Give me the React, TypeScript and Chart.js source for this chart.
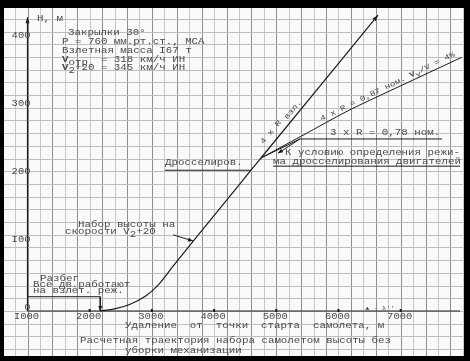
import React, { useEffect, useRef } from "react";
import { Chart, registerables } from "chart.js";

Chart.register(...registerables);

// ---- axis ticks ----
const xTickValues = [1000, 2000, 3000, 4000, 5000, 6000, 7000];
const xTickLabels = ["I000", "2000", "3000", "4000", "5000", "6000", "7000"];
const yTickValues = [0, 100, 200, 300, 400];
const yTickLabels = ["0", "I00", "200", "300", "400"];

// ---- trajectories: distance from start (m) / height (m) ----
const allEnginesX = [2170, 2400, 2650, 2900, 3100, 3350, 3720, 4593, 4754, 6635];
const allEnginesY = [0, 3, 10, 22, 38, 67, 109, 207, 225, 435];
const fourThrottledX = [4754, 5400, 6185, 6506, 7980];
const fourThrottledY = [225, 257, 296, 310, 373];
const threeThrottledX = [4754, 5381, 7665];
const threeThrottledY = [225, 253, 253];

// ---- leader lines ----
const runX = [1000, 2170, 2170];
const runY = [21, 21, 0];
const climbLeaderX = [3342, 3661];
const climbLeaderY = [112, 103];
const throttleLeaderX = [3210, 4593];
const throttleLeaderY = [207, 207];
const conditionArrowX = [5381, 5027];
const conditionArrowY = [253, 232];
const conditionLineX = [4947, 7953];
const conditionLineY = [213, 213];

// ---- paper range ----
const X_MIN = 622;
const X_MAX = 8002;
const Y_MIN = -66.2;
const Y_MAX = 445.6;
const X_GRID = 200;
const Y_GRID = 18.68;

type Seg = { t: string; sub?: boolean; bold?: boolean };
type Note = { x: number; y: number; segs: Seg[]; align?: "left" | "center"; rot?: number; size?: number };

const notes: Note[] = [
  { x: 1153, y: 429.4, segs: [{ t: "Н, м" }] },
  { x: 1651, y: 408.8, segs: [{ t: "Закрылки 30°" }] },
  { x: 1555, y: 395.6, segs: [{ t: "Р = 760 мм.рт.ст., МСА" }] },
  { x: 1555, y: 382.4, segs: [{ t: "Взлетная масса I67 т" }] },
  { x: 1555, y: 369.1, segs: [{ t: "V", bold: true }, { t: "отр.", sub: true }, { t: " = 318 км/ч ИН" }] },
  { x: 1555, y: 357.4, segs: [{ t: "V", bold: true }, { t: "2", sub: true }, { t: "+20 = 345 км/ч ИН" }] },
  { x: 1201, y: 47, segs: [{ t: "Разбег" }] },
  { x: 1088, y: 38.2, segs: [{ t: "Все дв.работают" }] },
  { x: 1088, y: 29.4, segs: [{ t: "на взлет. реж." }] },
  { x: 1812, y: 126.5, segs: [{ t: "Набор высоты на" }] },
  { x: 1603, y: 116.2, segs: [{ t: "скорости V" }, { t: "2", sub: true }, { t: "+20" }] },
  { x: 3211, y: 217.6, segs: [{ t: "Дросселиров." }] },
  { x: 5863, y: 261.8, segs: [{ t: "3 x R = 0,78 ном." }] },
  { x: 5140, y: 232.4, segs: [{ t: "К условию определения режи-" }] },
  { x: 4947, y: 219.1, segs: [{ t: "ма дросселирования двигателей" }] },
  { x: 5060, y: 279, segs: [{ t: "4 x R " }, { t: "взл.", sub: true }], align: "center", rot: -50, size: 9.5 },
  {
    x: 6790, y: 330,
    segs: [{ t: "4 x R = 0,87 ном. " }, { t: "V", bold: true }, { t: "y", sub: true }, { t: "/V = 4%" }],
    align: "center", rot: -26, size: 9.2,
  },
  { x: 2568, y: -22.1, segs: [{ t: "Удаление  от  точки  старта  самолета, м" }] },
  { x: 1844, y: -44.1, segs: [{ t: "Расчетная траектория набора самолетом высоты без" }] },
  { x: 2568, y: -58.8, segs: [{ t: "уборки механизации" }] },
  { x: 6667, y: 3.2, segs: [{ t: "▲ - λ''" }], align: "center", size: 7 },
];

const FONT = '"Liberation Mono", "DejaVu Sans Mono", monospace';
const INK = "#4a4a4a";
const LINE = "#1c1c1c";
const SQUASH = 0.82;

function pts(xs: number[], ys: number[]) {
  return xs.map((x, i) => ({ x, y: ys[i] }));
}

function drawSegs(ctx: CanvasRenderingContext2D, segs: Seg[], size: number, align: "left" | "center") {
  const fontOf = (s: Seg) => `${s.bold ? "bold " : ""}${size}px ${FONT}`;
  const widths = segs.map((s) => {
    ctx.font = fontOf(s);
    return ctx.measureText(s.t).width;
  });
  const total = widths.reduce((a, b) => a + b, 0);
  let x = align === "center" ? -total / 2 : 0;
  segs.forEach((s, i) => {
    ctx.font = fontOf(s);
    ctx.fillText(s.t, x, s.sub ? size * 0.32 : 0);
    x += widths[i];
  });
}

function arrowHead(ctx: CanvasRenderingContext2D, x1: number, y1: number, x2: number, y2: number, len = 6, w = 2.2) {
  const a = Math.atan2(y2 - y1, x2 - x1);
  const c = Math.cos(a), s = Math.sin(a);
  ctx.beginPath();
  ctx.moveTo(x2, y2);
  ctx.lineTo(x2 - len * c + w * s, y2 - len * s - w * c);
  ctx.lineTo(x2 - len * c - w * s, y2 - len * s + w * c);
  ctx.closePath();
  ctx.fill();
}

const paperPlugin = {
  id: "paper",
  beforeDraw(chart: any) {
    const { ctx, chartArea: a, width, height } = chart;
    ctx.save();
    ctx.fillStyle = "#000";
    ctx.fillRect(0, 0, width, height);
    ctx.fillStyle = "#fafafa";
    ctx.fillRect(a.left, a.top, a.right - a.left, a.bottom - a.top);
    ctx.restore();
  },
  beforeDatasetsDraw(chart: any) {
    const { ctx, chartArea: a } = chart;
    const xs = chart.scales.x;
    const ys = chart.scales.y;
    ctx.save();
    ctx.lineWidth = 1;
    for (let v = Math.ceil(X_MIN / X_GRID) * X_GRID; v <= X_MAX; v += X_GRID) {
      const x = Math.round(xs.getPixelForValue(v)) + 0.5;
      ctx.strokeStyle = Math.abs((v % (2 * X_GRID)) - X_GRID) < 0.01 ? "#8e8e8e" : "#c8c8c8";
      ctx.beginPath();
      ctx.moveTo(x, a.top);
      ctx.lineTo(x, a.bottom);
      ctx.stroke();
    }
    ctx.strokeStyle = "#bdbdbd";
    for (let k = Math.ceil(Y_MIN / Y_GRID); k * Y_GRID <= Y_MAX; k++) {
      const y = Math.round(ys.getPixelForValue(k * Y_GRID)) + 0.5;
      ctx.beginPath();
      ctx.moveTo(a.left, y);
      ctx.lineTo(a.right, y);
      ctx.stroke();
    }
    ctx.restore();
  },
  afterDatasetsDraw(chart: any) {
    const { ctx } = chart;
    const xs = chart.scales.x;
    const ys = chart.scales.y;
    const px = (v: number) => xs.getPixelForValue(v);
    const py = (v: number) => ys.getPixelForValue(v);
    ctx.save();
    ctx.strokeStyle = LINE;
    ctx.fillStyle = LINE;
    ctx.lineWidth = 1.2;
    const x0 = px(1000), y0 = py(0);
    ctx.beginPath();
    ctx.moveTo(x0, y0);
    ctx.lineTo(x0, py(432));
    ctx.moveTo(x0, y0);
    ctx.lineTo(px(7954), y0);
    ctx.stroke();
    arrowHead(ctx, x0, y0, x0, py(432), 6, 2);
    xTickValues.forEach((v) => {
      if (v === 1000) return;
      ctx.fillRect(px(v) - 1, y0 - 2, 2, 3);
    });
    const ai = allEnginesX.length - 1;
    arrowHead(ctx, px(allEnginesX[ai - 1]), py(allEnginesY[ai - 1]), px(allEnginesX[ai]), py(allEnginesY[ai]));
    arrowHead(ctx, px(climbLeaderX[0]), py(climbLeaderY[0]), px(climbLeaderX[1]), py(climbLeaderY[1]), 5, 2);
    arrowHead(ctx, px(runX[1]), py(runY[1]), px(runX[2]), py(runY[2]), 5, 2);
    arrowHead(ctx, px(conditionArrowX[0]), py(conditionArrowY[0]), px(conditionArrowX[1]), py(conditionArrowY[1]), 5, 2);

    ctx.fillStyle = INK;
    ctx.font = `10.5px ${FONT}`;
    ctx.textBaseline = "middle";
    const label = (t: string, x: number, y: number, align: CanvasTextAlign) => {
      ctx.save();
      ctx.translate(x, y);
      ctx.scale(1, SQUASH);
      ctx.textAlign = align;
      ctx.fillText(t, 0, 0);
      ctx.restore();
    };
    xTickValues.forEach((v, i) => label(xTickLabels[i], px(v) - 1, y0 + 6, "center"));
    yTickValues.forEach((v, i) => label(yTickLabels[i], x0 + 3, py(v) - 3, "right"));

    ctx.textAlign = "left";
    notes.forEach((n) => {
      ctx.save();
      ctx.translate(px(n.x), py(n.y));
      if (n.rot) ctx.rotate((n.rot * Math.PI) / 180);
      ctx.scale(1, SQUASH);
      drawSegs(ctx, n.segs, n.size ?? 10.8, n.align ?? "left");
      ctx.restore();
    });
    ctx.restore();
  },
};

export default function App() {
  const ref = useRef<HTMLCanvasElement>(null);
  useEffect(() => {
    const lineDs = (label: string, xs: number[], ys: number[], extra: any = {}) => ({
      label,
      data: pts(xs, ys),
      borderColor: LINE,
      borderWidth: 1.2,
      pointRadius: 0,
      fill: false,
      tension: 0,
      ...extra,
    });
    const chart = new Chart(ref.current!, {
      type: "line",
      data: {
        datasets: [
          lineDs("Все двигатели", allEnginesX, allEnginesY, { cubicInterpolationMode: "monotone" }),
          lineDs("4 x R = 0,87 ном.", fourThrottledX, fourThrottledY, { cubicInterpolationMode: "monotone", borderWidth: 1 }),
          lineDs("3 x R = 0,78 ном.", threeThrottledX, threeThrottledY, { borderWidth: 1 }),
          lineDs("Разбег", runX, runY, { borderWidth: 1 }),
          lineDs("Набор", climbLeaderX, climbLeaderY, { borderWidth: 1 }),
          lineDs("Дросселиров.", throttleLeaderX, throttleLeaderY, { borderWidth: 1 }),
          lineDs("К условию", conditionArrowX, conditionArrowY, { borderWidth: 1 }),
          lineDs("К условию (черта)", conditionLineX, conditionLineY, { borderWidth: 1 }),
        ],
      },
      options: {
        animation: false,
        responsive: false,
        devicePixelRatio: 1,
        layout: { padding: { left: 4, top: 8, right: 7, bottom: 5 } },
        plugins: { legend: { display: false }, tooltip: { enabled: false } },
        scales: {
          x: {
            type: "linear",
            min: X_MIN,
            max: X_MAX,
            ticks: { display: false },
            border: { display: false },
            grid: { display: false, drawTicks: false },
          },
          y: {
            type: "linear",
            min: Y_MIN,
            max: Y_MAX,
            ticks: { display: false },
            border: { display: false },
            grid: { display: false, drawTicks: false },
          },
        },
      },
      plugins: [paperPlugin],
    });
    return () => chart.destroy();
  }, []);
  return (
    <div style={{ position: "fixed", left: 0, top: 0, width: 470, height: 361, background: "#000" }}>
      <canvas ref={ref} width={470} height={361} style={{ display: "block", width: 470, height: 361 }} />
    </div>
  );
}
